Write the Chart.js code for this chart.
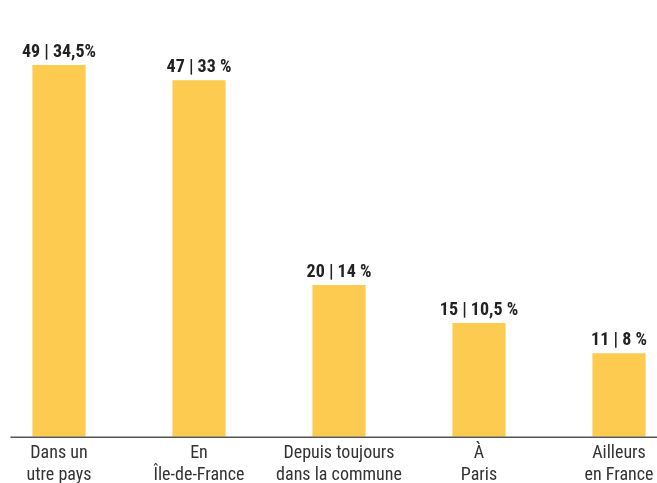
<!DOCTYPE html>
<html>
<head>
<meta charset="utf-8">
<script src="https://cdn.jsdelivr.net/npm/chart.js@4"></script>
<style>
  html, body { margin: 0; padding: 0; background: #fff; overflow: hidden; }
  #page { position: relative; width: 657px; height: 483px; overflow: hidden; }
  #wrap { position: absolute; left: -11.5px; top: 0; width: 700px; height: 484px; }
</style>
</head>
<body>
<div id="page"><div id="wrap"><canvas id="myChart"></canvas></div></div>
<script>
const categories = [
  ["Dans un", "utre pays"],
  ["En", "Île-de-France"],
  ["Depuis toujours", "dans la commune"],
  ["À", "Paris"],
  ["Ailleurs", "en France"],
];
const counts = [49, 47, 20, 15, 11];
const percents = ["34,5%", "33 %", "14 %", "10,5 %", "8 %"];

const FONT = '"Roboto Condensed", "Liberation Sans Narrow", "DejaVu Sans Condensed", Roboto, sans-serif';

// value labels above bars + baseline axis line
const barLabels = {
  id: "barLabels",
  afterDatasetsDraw(chart) {
    const ctx = chart.ctx;
    const meta = chart.getDatasetMeta(0);
    ctx.save();
    ctx.strokeStyle = "#555";
    ctx.lineWidth = 1.5;
    ctx.beginPath();
    ctx.moveTo(21.5, chart.chartArea.bottom + 0.5);
    ctx.lineTo(chart.width, chart.chartArea.bottom + 0.5);
    ctx.stroke();
    ctx.fillStyle = "#222";
    ctx.font = "bold 18px " + FONT;
    ctx.textAlign = "center";
    ctx.textBaseline = "alphabetic";
    meta.data.forEach((bar, i) => {
      ctx.fillText(counts[i] + " | " + percents[i], bar.x, bar.y - 8);
    });
    ctx.restore();
  },
};

const config = {
  type: "bar",
  data: {
    labels: categories,
    datasets: [
      {
        data: counts,
        backgroundColor: "#FDCB4F",
        barPercentage: 0.38,
        categoryPercentage: 1,
      },
    ],
  },
  options: {
    responsive: true,
    maintainAspectRatio: false,
    animation: false,
    layout: {
      padding: { left: 0, right: 0, top: 65, bottom: 0 },
    },
    plugins: {
      legend: { display: false },
      title: { display: false },
      tooltip: { enabled: false },
    },
    scales: {
      x: {
        grid: { display: false },
        border: { display: false },
        ticks: {
          autoSkip: false,
          maxRotation: 0,
          padding: -2,
          color: "#333",
          font: { family: FONT, size: 18, lineHeight: 1.2 },
        },
      },
      y: {
        display: false,
        min: 0,
        max: 49,
      },
    },
  },
  plugins: [barLabels],
};

const ctx = document.getElementById("myChart");
const myChart = new Chart(ctx, config);
</script>
</body>
</html>
